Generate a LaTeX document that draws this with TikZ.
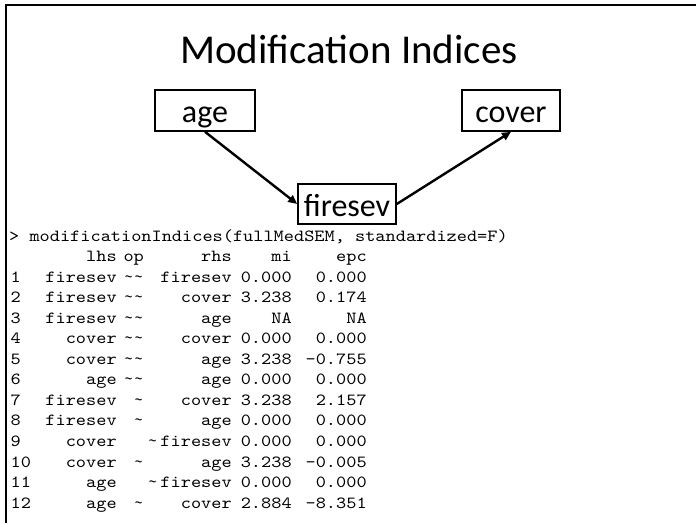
\documentclass[tikz,border=0pt]{standalone}
\usepackage{fontspec}
\usepackage{graphicx}
\setmainfont{Carlito}
\newfontfamily\codefont[FakeStretch=1.14]{lmmono10-regular.otf}
\newfontfamily\tildefont{Liberation Mono}
\usetikzlibrary{arrows.meta}

% place text inside a zero-width line box: left-aligned, right-aligned or centred at x (pt)
\newcommand\putL[2]{\rlap{\hspace*{#1pt}#2}}
\newcommand\putR[2]{\rlap{\hspace*{#1pt}\llap{#2}}}
\newcommand\putC[2]{\rlap{\hspace*{#1pt}\makebox[0pt]{#2}}}
% console-style tilde, sitting at mid x-height, a little narrower than the cell
\newcommand\tld{\makebox[10.16pt]{\scalebox{0.75}[1]{\tildefont\textasciitilde}}}
% operator column variants
\newcommand\opTwo{\putC{133}{\tld\tld}}
\newcommand\opOne{\putC{138}{\tld}}
\newcommand\opNear{\putC{152}{\tld}}
% one printed row of the modification-index table
\newcommand\mirow[6]{\putL{10}{#1}\putR{116}{#2}#3\putR{231}{#4}\putR{291}{#5}\putR{366}{#6}}

\tikzset{
  varbox/.style={draw=black, line width=1.6pt, inner sep=0pt,
    font=\fontsize{32}{36}\selectfont, text height=26pt, text depth=2pt},
  patharrow/.style={line width=2.4pt, -{Triangle[length=9pt,width=8pt]}},
  codeline/.style={anchor=base west, inner sep=0pt,
    font=\codefont\fontsize{17}{20}\selectfont},
}

\begin{document}
\begin{tikzpicture}[x=1pt,y=-1pt]
\useasboundingbox (0,0) rectangle (696,523);
\fill[white] (0,0) rectangle (696,523);

% slide frame (top and left edges)
\draw[line width=2.2pt, line join=miter] (6,523) -- (6,5) -- (696,5);

% title
\node[font=\fontsize{41}{48}\selectfont, anchor=base, inner sep=0pt] (title) at (349,63) {Modification Indices};

% path model
\node[varbox, minimum width=100pt, minimum height=41pt] (age) at (205,110.5) {age};
\node[varbox, minimum width=98pt, minimum height=40pt] (fire) at (347,204) {firesev};
\node[varbox, minimum width=98pt, minimum height=41pt] (cover) at (511,110.5) {cover};

\draw[patharrow] (age.south) -- (fire.west);
\draw[patharrow] (fire.east) -- (cover.south);

% R console output
\node[codeline] (cmd) at (9,241) {> modificationIndices(fullMedSEM, standardized=F)};
\node[codeline] (hdr) at (0,261.5) {\putR{116}{lhs}\putC{133}{op}\putR{231}{rhs}\putR{291}{mi}\putR{366}{epc}};
\node[codeline] (r1)  at (0,282.05) {\mirow{1}{firesev}{\opTwo}{firesev}{0.000}{0.000}};
\node[codeline] (r2)  at (0,302.6)  {\mirow{2}{firesev}{\opTwo}{cover}{3.238}{0.174}};
\node[codeline] (r3)  at (0,323.15) {\mirow{3}{firesev}{\opTwo}{age}{NA}{NA}};
\node[codeline] (r4)  at (0,343.7)  {\mirow{4}{cover}{\opTwo}{cover}{0.000}{0.000}};
\node[codeline] (r5)  at (0,364.25) {\mirow{5}{cover}{\opTwo}{age}{3.238}{-0.755}};
\node[codeline] (r6)  at (0,384.8)  {\mirow{6}{age}{\opTwo}{age}{0.000}{0.000}};
\node[codeline] (r7)  at (0,405.35) {\mirow{7}{firesev}{\opOne}{cover}{3.238}{2.157}};
\node[codeline] (r8)  at (0,425.9)  {\mirow{8}{firesev}{\opOne}{age}{0.000}{0.000}};
\node[codeline] (r9)  at (0,446.45) {\mirow{9}{cover}{\opNear}{firesev}{0.000}{0.000}};
\node[codeline] (r10) at (0,467.0)  {\mirow{10}{cover}{\opOne}{age}{3.238}{-0.005}};
\node[codeline] (r11) at (0,487.55) {\mirow{11}{age}{\opNear}{firesev}{0.000}{0.000}};
\node[codeline] (r12) at (0,508.1)  {\mirow{12}{age}{\opOne}{cover}{2.884}{-8.351}};
\end{tikzpicture}
\end{document}
